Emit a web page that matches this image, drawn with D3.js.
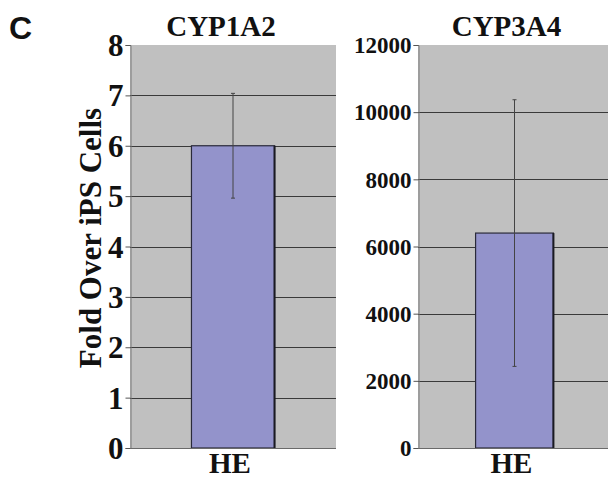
<!DOCTYPE html>
<html>
<head>
  <meta charset="utf-8">
  <title>CYP1A2 and CYP3A4 fold over iPS cells</title>
  <script src="https://d3js.org/d3.v7.min.js"></script>
  <style>
    body { margin: 0; background: white; }
    svg { display: block; }
    .serif { font-family: "Liberation Serif", "Times New Roman", serif; font-weight: bold; fill: #111; }
    .panel-letter { font-family: "Liberation Sans", Arial, sans-serif; font-weight: bold; font-size: 32px; fill: #111; }
  </style>
</head>
<body>
<div id="chart"></div>
<script>
  // chart values
  const categories = ["HE"];
  const panelTitles = ["CYP1A2", "CYP3A4"];
  const cyp1a2Values = [6.0];
  const cyp1a2Errors = [1.04];
  const cyp3a4Values = [6400];
  const cyp3a4Errors = [3970];
  const cyp1a2Ticks = [0, 1, 2, 3, 4, 5, 6, 7, 8];
  const cyp3a4Ticks = [0, 2000, 4000, 6000, 8000, 10000, 12000];
  const yLabel = "Fold Over iPS Cells";

  const W = 608, H = 479;
  const svg = d3.select("#chart").append("svg")
    .attr("width", W)
    .attr("height", H);

  const plotTop = 45, plotBottom = 448;

  // panel settings (layout only)
  const panels = [
    { title: panelTitles[0], values: cyp1a2Values, errors: cyp1a2Errors, ticks: cyp1a2Ticks,
      x0: 130, x1: 336, tickSize: 31, titleDx: -12 },
    { title: panelTitles[1], values: cyp3a4Values, errors: cyp3a4Errors, ticks: cyp3a4Ticks,
      x0: 418, x1: 611, tickSize: 23, titleDx: -8 }
  ];

  panels.forEach(p => {
    const x = d3.scaleBand()
      .domain(categories)
      .range([p.x0, p.x1])
      .paddingInner(0)
      .paddingOuter(0.74);
    const y = d3.scaleLinear()
      .domain([0, d3.max(p.ticks)])
      .range([plotBottom, plotTop]);

    const g = svg.append("g");

    // grey plot area
    g.append("rect")
      .attr("x", p.x0)
      .attr("y", plotTop)
      .attr("width", p.x1 - p.x0)
      .attr("height", plotBottom - plotTop)
      .attr("fill", "#c0c0c0");

    // horizontal gridlines (no line at the top)
    g.append("g")
      .selectAll("line")
      .data(p.ticks.filter(t => t > 0 && t < d3.max(p.ticks)))
      .join("line")
      .attr("x1", p.x0)
      .attr("x2", p.x1)
      .attr("y1", d => Math.round(y(d)) + 0.5)
      .attr("y2", d => Math.round(y(d)) + 0.5)
      .attr("stroke", "#3a3a3a")
      .attr("stroke-width", 1);

    // bars
    g.selectAll(".bar")
      .data(categories)
      .join("rect")
      .attr("class", "bar")
      .attr("x", d => x(d))
      .attr("y", (d, i) => y(p.values[i]))
      .attr("width", x.bandwidth())
      .attr("height", (d, i) => y(0) - y(p.values[i]))
      .attr("fill", "#9393cb")
      .attr("stroke", "#2a2a3a")
      .attr("stroke-width", 1.2);

    // darker right edge of the bar
    g.selectAll(".bar-edge")
      .data(categories)
      .join("line")
      .attr("class", "bar-edge")
      .attr("x1", d => x(d) + x.bandwidth())
      .attr("x2", d => x(d) + x.bandwidth())
      .attr("y1", (d, i) => y(p.values[i]))
      .attr("y2", y(0))
      .attr("stroke", "#1a1a22")
      .attr("stroke-width", 2);

    // error bars
    const eb = g.selectAll(".err")
      .data(categories)
      .join("g")
      .attr("class", "err")
      .attr("stroke", "#444")
      .attr("stroke-width", 1);
    eb.append("line")
      .attr("x1", d => x(d) + x.bandwidth() / 2)
      .attr("x2", d => x(d) + x.bandwidth() / 2)
      .attr("y1", (d, i) => y(p.values[i] + p.errors[i]))
      .attr("y2", (d, i) => y(p.values[i] - p.errors[i]));
    [1, -1].forEach(s => {
      eb.append("line")
        .attr("x1", d => x(d) + x.bandwidth() / 2 - 2)
        .attr("x2", d => x(d) + x.bandwidth() / 2 + 2)
        .attr("y1", (d, i) => y(p.values[i] + s * p.errors[i]))
        .attr("y2", (d, i) => y(p.values[i] + s * p.errors[i]));
    });

    // y axis
    const yAxis = g.append("g")
      .attr("transform", `translate(${p.x0 + 0.5},0)`)
      .call(d3.axisLeft(y).tickValues(p.ticks).tickFormat(d3.format("d")).tickSize(5).tickPadding(2));
    yAxis.select(".domain").attr("stroke", "#7a7a7a");
    yAxis.selectAll(".tick line").attr("stroke", "#555");
    yAxis.selectAll("text")
      .attr("class", "serif")
      .style("font-size", p.tickSize + "px")
      .attr("dy", "0.34em");

    // baseline
    g.append("line")
      .attr("x1", p.x0)
      .attr("x2", p.x1)
      .attr("y1", plotBottom + 0.5)
      .attr("y2", plotBottom + 0.5)
      .attr("stroke", "#6a6a6a");

    // category labels
    g.selectAll(".cat")
      .data(categories)
      .join("text")
      .attr("class", "serif")
      .attr("x", d => x(d) + x.bandwidth() / 2 - 3)
      .attr("y", 473)
      .attr("text-anchor", "middle")
      .style("font-size", "29px")
      .text(d => d);

    // panel title
    g.append("text")
      .attr("class", "serif")
      .attr("x", x(categories[0]) + x.bandwidth() / 2 + p.titleDx)
      .attr("y", 36)
      .attr("text-anchor", "middle")
      .style("font-size", "29px")
      .text(p.title);
  });

  // shared y label
  svg.append("text")
    .attr("class", "serif")
    .attr("transform", "translate(101,238) rotate(-90)")
    .attr("text-anchor", "middle")
    .style("font-size", "31px")
    .text(yLabel);

  // panel letter
  svg.append("text")
    .attr("class", "panel-letter")
    .attr("x", 9)
    .attr("y", 39)
    .text("C");
</script>
</body>
</html>
